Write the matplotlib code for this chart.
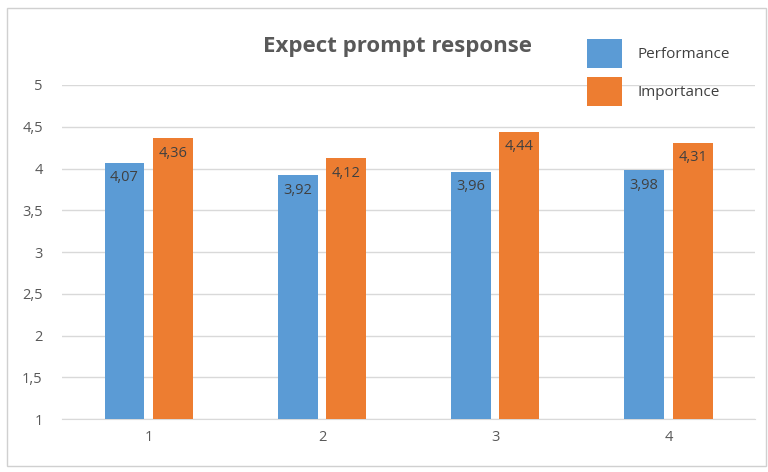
import matplotlib.pyplot as plt
import numpy as np
from matplotlib.patches import Rectangle

plt.rcParams['font.family'] = ['Open Sans', 'DejaVu Sans']

categories = ["1", "2", "3", "4"]
performance = [4.07, 3.92, 3.96, 3.98]
importance = [4.36, 4.12, 4.44, 4.31]
y_ticks = [1, 1.5, 2, 2.5, 3, 3.5, 4, 4.5, 5]
y_labels = ["1", "1,5", "2", "2,5", "3", "3,5", "4", "4,5", "5"]

BLUE = "#5B9BD5"
ORANGE = "#ED7D31"
TXT = "#595959"

fig = plt.figure(figsize=(7.68, 4.72), dpi=100)
fig.patches.append(Rectangle((0.009, 0.012), 0.988, 0.972, transform=fig.transFigure,
                             fill=False, edgecolor="#d0d0d0", lw=1))
ax = fig.add_axes([0.081, 0.112, 0.902, 0.708])

x = np.arange(len(categories))
w = 0.23
off = 0.14
b1 = ax.bar(x - off, performance, w, bottom=0, color=BLUE, label="Performance", zorder=3)
b2 = ax.bar(x + off, importance, w, bottom=0, color=ORANGE, label="Importance", zorder=3)

for bars, vals in ((b1, performance), (b2, importance)):
    for b, v in zip(bars, vals):
        ax.text(b.get_x() + b.get_width() / 2, v - 0.09, f"{v:.2f}".replace(".", ","),
                ha="center", va="top", fontsize=10.5, color="#404040", zorder=4)

ax.set_ylim(1, 5)
ax.set_xlim(-0.5, 3.5)
ax.set_yticks(y_ticks)
ax.set_yticklabels(y_labels)
ax.set_xticks(x)
ax.set_xticklabels(categories)
ax.tick_params(length=0, colors=TXT, labelsize=10.5)
ax.tick_params(axis="x", pad=8)
ax.tick_params(axis="y", pad=14)
ax.grid(axis="y", color="#d9d9d9", lw=1, zorder=0)
for s in ("top", "right", "left"):
    ax.spines[s].set_visible(False)
ax.spines["bottom"].set_color("#d9d9d9")

fig.text(0.517, 0.902, "Expect prompt response", ha="center", va="center",
         fontsize=16, fontweight="bold", color=TXT)

ax.legend(loc="upper left", bbox_to_anchor=(0.738, 1.18), frameon=False,
          fontsize=11, handlelength=2.3, handleheight=2.6, labelspacing=0.55,
          handletextpad=1.0, labelcolor="#404040")

fig.savefig("out.png", dpi=100)
